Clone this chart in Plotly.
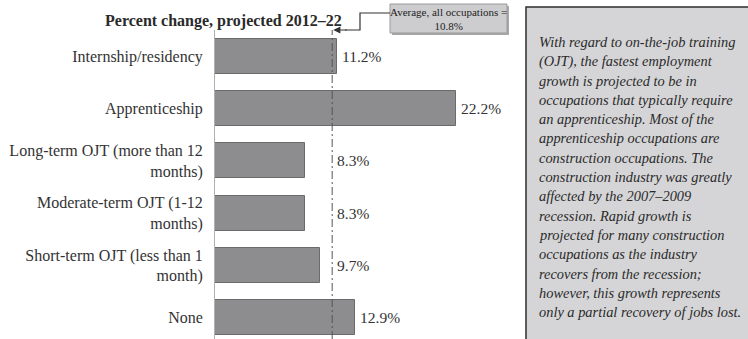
import plotly.graph_objects as go

# Projected employment change by typical on-the-job training, 2012-22
categories = [
    "Internship/residency",
    "Apprenticeship",
    "Long-term OJT (more than 12<br>months)",
    "Moderate-term OJT (1-12<br>months)",
    "Short-term OJT (less than 1<br>month)",
    "None",
]
pct_change = [11.2, 22.2, 8.3, 8.3, 9.7, 12.9]
value_labels = ["11.2%", "22.2%", "8.3%", "8.3%", "9.7%", "12.9%"]
average_all = 10.8
average_label = "Average, all occupations =<br>10.8%"
chart_title = "Percent change, projected 2012\u201322"

note_lines = [
    "With regard to on-the-job training",
    "(OJT), the fastest employment",
    "growth is projected to be in",
    "occupations that typically require",
    "an apprenticeship. Most of the",
    "apprenticeship occupations are",
    "construction occupations. The",
    "construction industry was greatly",
    "affected by the 2007\u20132009",
    "recession. Rapid growth is",
    "projected for many construction",
    "occupations as the industry",
    "recovers from the recession;",
    "however, this growth represents",
    "only a partial recovery of jobs lost.",
]

W, H = 748, 339
SERIF = "Liberation Serif"
TEXT = "#333333"


def px(x):
    return x / W


def py(y):
    return 1 - y / H


x_left, x_right = 215, 497
y_top = 30
plot_top = py(y_top)

fig = go.Figure()
fig.add_trace(go.Bar(
    y=list(range(len(categories))),
    x=pct_change,
    orientation="h",
    width=0.67,
    marker=dict(color="#8d8d8f", line=dict(color="#6a6a6a", width=1)),
    hoverinfo="skip",
))

# Value labels sit to the right of the bar or of the average line, whichever is further
for i, (v, lab) in enumerate(zip(pct_change, value_labels)):
    fig.add_annotation(
        x=max(v, average_all), y=i, xref="x", yref="y",
        text=lab, showarrow=False, xanchor="left", yanchor="middle", xshift=3,
        font=dict(family=SERIF, size=15.5, color=TEXT),
    )

# Average line
fig.add_shape(
    type="line", xref="x", yref="paper",
    x0=average_all, x1=average_all, y0=0, y1=plot_top,
    line=dict(color="#555555", width=1, dash="8px,3px,2px,3px"),
)

# Title
fig.add_annotation(
    x=px(223), y=py(21), xref="paper", yref="paper",
    text="<b>" + chart_title + "</b>", showarrow=False,
    xanchor="center", yanchor="middle",
    font=dict(family=SERIF, size=16, color="#2a2a2a"),
)

# Average callout box with elbow connector
fig.add_shape(
    type="rect", xref="paper", yref="paper",
    x0=px(392), x1=px(509), y0=py(35), y1=py(6),
    fillcolor="#a8a8a8", line=dict(width=0), layer="below",
)
fig.add_shape(
    type="rect", xref="paper", yref="paper",
    x0=px(390), x1=px(507), y0=py(33), y1=py(4),
    fillcolor="#cdcdcf", line=dict(color="#9a9a9a", width=1),
)
fig.add_annotation(
    x=px(449), y=py(18.5), xref="paper", yref="paper",
    text=average_label, showarrow=False,
    xanchor="center", yanchor="middle",
    font=dict(family=SERIF, size=11, color="#222222"),
)
fig.add_shape(
    type="path", xref="paper", yref="paper",
    path=f"M {px(390)},{py(13)} L {px(360)},{py(13)} L {px(360)},{py(30)} L {px(345)},{py(30)}",
    line=dict(color="#333333", width=1.2),
)
fig.add_annotation(
    x=average_all, y=py(30), xref="x", yref="paper",
    ax=16, ay=0, axref="pixel", ayref="pixel",
    text="", showarrow=True, arrowhead=2, arrowsize=1.2, arrowwidth=1.2,
    arrowcolor="#333333", standoff=1,
)

# Commentary panel
fig.add_shape(
    type="rect", xref="paper", yref="paper",
    x0=px(526), x1=px(760), y0=py(350), y1=py(7),
    fillcolor="#d5d5d7", line=dict(color="#2e2e2e", width=1.5),
)
for k, line in enumerate(note_lines):
    fig.add_annotation(
        x=px(537), y=py(42 + k * 19.3), xref="paper", yref="paper",
        text="<i>" + line + "</i>", showarrow=False,
        xanchor="left", yanchor="middle",
        font=dict(family=SERIF, size=14.4, color="#2a2a2a"),
    )

y_lo, y_hi = -0.5, -0.5 + (H - y_top) / 52.3

fig.update_layout(
    width=W, height=H,
    margin=dict(l=0, r=0, t=0, b=0),
    paper_bgcolor="white", plot_bgcolor="white",
    showlegend=False,
    font=dict(family=SERIF, size=15, color=TEXT),
    bargap=0,
    xaxis=dict(
        domain=[px(x_left), px(x_right)], range=[0, (x_right - x_left) / 10.85],
        showgrid=False, zeroline=False, showticklabels=False, showline=False,
    ),
    yaxis=dict(
        domain=[0, plot_top], range=[y_hi, y_lo],
        tickmode="array", tickvals=list(range(len(categories))), ticktext=categories,
        showgrid=False, zeroline=False, showline=True, linecolor="#b0b0b0", linewidth=1,
        ticks="", ticklabelstandoff=8,
        tickfont=dict(family=SERIF, size=16, color=TEXT),
    ),
)

fig.write_html("out.html")
